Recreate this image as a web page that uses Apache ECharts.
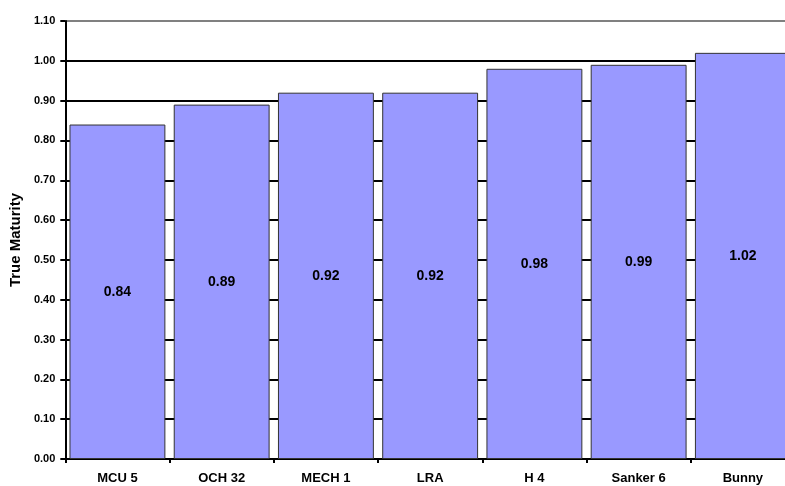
<!DOCTYPE html>
<html>
<head>
<meta charset="utf-8">
<script src="https://cdn.jsdelivr.net/npm/echarts@6/dist/echarts.min.js"></script>
<style>
  html, body { margin: 0; padding: 0; background: #fff; overflow: hidden; width: 785px; height: 486px; }
  /* the drawing surface is a bit wider than the page so the last bar runs off the edge */
  #chart { width: 800px; height: 486px; }
</style>
</head>
<body>
<div id="chart"></div>
<script>
// Model names along the horizontal axis
const categories = ['MCU 5', 'OCH 32', 'MECH 1', 'LRA', 'H 4', 'Sanker 6', 'Bunny'];
// True maturity value for each model
const maturity = [0.84, 0.89, 0.92, 0.92, 0.98, 0.99, 1.02];
// Value axis range and step
const yMin = 0;
const yMax = 1.1;
const yStep = 0.1;
const yTitle = 'True Maturity';

const font = 'Liberation Sans, Arial, sans-serif';

// Horizontal reference lines: black, except the topmost which is grey
const gridColors = [];
for (let i = 0; i < 11; i++) gridColors.push('#000');
gridColors.push('#808080');

const chart = echarts.init(document.getElementById('chart'), null, { renderer: 'canvas' });
chart.setOption({
  animation: false,
  backgroundColor: '#fff',
  grid: { left: 65, right: 5, top: 21, bottom: 27, containLabel: false },
  xAxis: {
    type: 'category',
    data: categories,
    axisLine: { lineStyle: { color: '#000', width: 2 } },
    axisTick: { show: true, length: 4, lineStyle: { color: '#000', width: 2 } },
    axisLabel: { color: '#000', fontFamily: font, fontWeight: 'bold', fontSize: 13, margin: 13 },
    splitLine: { show: false }
  },
  yAxis: {
    type: 'value',
    min: yMin,
    max: yMax,
    interval: yStep,
    name: yTitle,
    nameLocation: 'middle',
    nameGap: 38,
    nameRotate: 90,
    nameTextStyle: { color: '#000', fontFamily: font, fontWeight: 'bold', fontSize: 15 },
    axisLine: { show: true, lineStyle: { color: '#000', width: 2 } },
    axisTick: { show: true, length: 5, lineStyle: { color: '#000', width: 2 } },
    axisLabel: {
      color: '#000', fontFamily: font, fontWeight: 'bold', fontSize: 11, margin: 10,
      formatter: v => v.toFixed(2)
    },
    splitLine: { show: true, lineStyle: { color: gridColors, width: 2 } }
  },
  series: [{
    type: 'bar',
    data: maturity,
    barCategoryGap: '8%',
    itemStyle: { color: '#9999FF', borderColor: '#333', borderWidth: 1 },
    label: {
      show: true,
      position: 'inside',
      color: '#000',
      fontFamily: font,
      fontWeight: 'bold',
      fontSize: 14,
      formatter: p => p.value.toFixed(2)
    }
  }]
});
</script>
</body>
</html>
